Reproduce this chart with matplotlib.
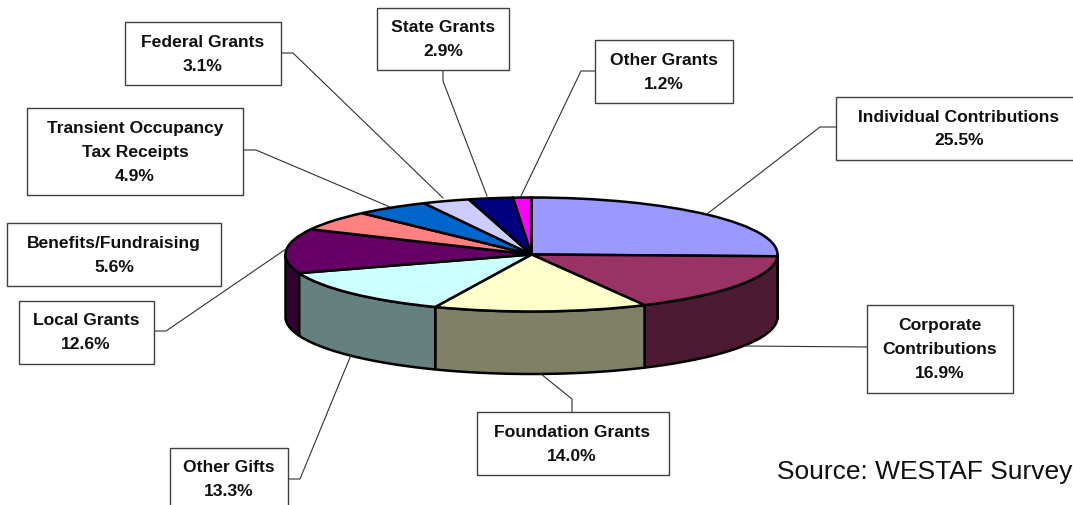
import matplotlib
matplotlib.use('Agg')
import matplotlib.pyplot as plt
import numpy as np

plt.rcParams['font.family'] = ['Liberation Sans', 'DejaVu Sans']

categories = ['Individual Contributions', 'Corporate\nContributions', 'Foundation Grants',
              'Other Gifts', 'Local Grants', 'Benefits/Fundraising',
              'Transient Occupancy\nTax Receipts', 'Federal Grants', 'State Grants', 'Other Grants']
shares = [25.5, 16.9, 14.0, 13.3, 12.6, 5.6, 4.9, 3.1, 2.9, 1.2]
top_colors = ['#9999FF', '#993366', '#FFFFCC', '#CCFFFF', '#660066',
              '#FF8080', '#0066CC', '#CCCCFF', '#000080', '#FF00FF']
side_colors = ['#4D4D80', '#4D1A33', '#808066', '#668080', '#330033',
               '#804040', '#003366', '#666680', '#000040', '#800080']

W, H = 1073, 506
cx, cy, rx, ry, depth = 531.5, 255.5, 246, 57, 62.5

fig = plt.figure(figsize=(W / 100, H / 100), dpi=100)

# pie axes: one data unit is one radius, so the circle comes out as the flat ellipse
ax = fig.add_axes([0, 0, 1, 1])
ax.pie(shares, colors=top_colors, startangle=90, counterclock=False, radius=1,
       wedgeprops=dict(edgecolor='black', linewidth=1.8, zorder=3))
ax.set_aspect('auto')
ax.set_xlim(-cx / rx, (W - cx) / rx)
ax.set_ylim((cy - H) / ry, cy / ry)
ax.axis('off')

# side wall, only the front half of the cake shows
d = depth / ry
edges = np.cumsum([0] + shares) / 100 * 2 * np.pi
for i in range(len(shares)):
    a = max(edges[i], np.pi / 2)
    b = min(edges[i + 1], 3 * np.pi / 2)
    if b <= a:
        continue
    t = np.linspace(a, b, 60)
    xs = np.sin(t)
    ys = np.cos(t)
    ax.fill(np.r_[xs, xs[::-1]], np.r_[ys, ys[::-1] - d], facecolor=side_colors[i],
            edgecolor='black', linewidth=1.8, joinstyle='round', zorder=2)

# overlay in pixels for the label boxes and leaders
ov = fig.add_axes([0, 0, 1, 1])
ov.set_xlim(0, W)
ov.set_ylim(H, 0)
ov.axis('off')
ov.patch.set_alpha(0)

boxes = [(836, 98, 1078, 161), (867, 306, 1013, 394), (477, 413, 669, 476),
         (170, 449, 288, 512), (19, 302, 154, 365), (7, 224, 221, 287),
         (27, 109, 243, 196), (125, 23, 281, 86), (377, 9, 509, 71), (595, 41, 733, 104)]
label_xy = [(959, 129), (940, 349.5), (572, 444.5), (229, 479.5), (86, 332.5), (114, 255.5),
            (135, 152.5), (203, 54.5), (443, 39.5), (664, 72.5)]
leaders = [[(836, 128), (820, 128), (707, 215)], [(867, 348), (745, 347)],
           [(572, 413), (572, 400), (541, 375)], [(288, 480), (300, 480), (351, 356)],
           [(154, 332), (166, 332), (286, 250)], [],
           [(243, 151), (256, 151), (390, 208)], [(281, 54), (293, 54), (443, 199)],
           [(443, 71), (443, 82), (487, 197)], [(595, 72), (581, 72), (521, 197)]]

for name, share, box, xy, leader in zip(categories, shares, boxes, label_xy, leaders):
    x0, y0, x1, y1 = box
    ov.add_patch(plt.Rectangle((x0, y0), x1 - x0, y1 - y0, facecolor='white',
                               edgecolor='#404040', linewidth=1.0, zorder=4))
    if leader:
        lx, ly = zip(*leader)
        ov.plot(lx, ly, color='#303030', linewidth=0.8, zorder=3)
    ov.text(xy[0], xy[1], f'{name}\n{share:.1f}%', ha='center', va='center', fontsize=12.6,
            fontweight='bold', color='#101010', linespacing=1.72, zorder=5)

ov.text(777, 472, 'Source: WESTAF Survey', ha='left', va='center', fontsize=19, color='#101010')

fig.savefig('out.png', dpi=100)
